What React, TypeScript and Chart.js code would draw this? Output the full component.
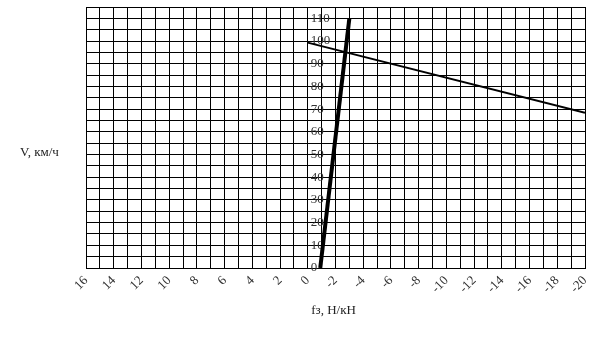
import React, { useEffect, useRef } from "react";
import { Chart, registerables } from "chart.js";

Chart.register(...registerables);

// Data
const xTickLabels = [16, 14, 12, 10, 8, 6, 4, 2, 0, -2, -4, -6, -8, -10, -12, -14, -16, -18, -20];
const yTickLabels = [0, 10, 20, 30, 40, 50, 60, 70, 80, 90, 100, 110];

const thinLineF = [0, -20];
const thinLineV = [99.3, 68.4];

const thickLineF = [-0.9, -3.0];
const thickLineV = [0, 110];

const xTitle = "fз, Н/кН";
const yTitle = "V, км/ч";

const FONT = "'Liberation Serif', 'Times New Roman', serif";

export default function App() {
  const canvasRef = useRef<HTMLCanvasElement | null>(null);

  useEffect(() => {
    const canvas = canvasRef.current;
    if (!canvas) return;

    const labelsPlugin = {
      id: "customLabels",
      beforeDatasetsDraw(chart: any) {
        const { ctx, scales, chartArea } = chart;
        const xs = scales.x;
        const ys = scales.y;
        ctx.save();
        ctx.fillStyle = "#333";
        ctx.font = `13px ${FONT}`;
        ctx.textAlign = "left";
        ctx.textBaseline = "middle";
        const x0 = xs.getPixelForValue(0);
        for (const v of yTickLabels) {
          ctx.fillText(String(v), x0 + 3, ys.getPixelForValue(v));
        }
        ctx.restore();
      },
      afterDraw(chart: any) {
        const { ctx, chartArea } = chart;
        ctx.save();
        ctx.fillStyle = "#222";
        ctx.font = `13px ${FONT}`;
        ctx.textBaseline = "middle";
        ctx.textAlign = "left";
        ctx.fillText(yTitle, 20, (chartArea.top + chartArea.bottom) / 2 + 15);
        ctx.textAlign = "center";
        ctx.fillText(xTitle, (chartArea.left + chartArea.right) / 2 - 2, 311);
        ctx.restore();
      },
    };

    const chart = new Chart(canvas, {
      type: "scatter",
      data: {
        datasets: [
          {
            data: thinLineF.map((f, i) => ({ x: f, y: thinLineV[i] })),
            showLine: true,
            borderColor: "#000",
            borderWidth: 2,
            pointRadius: 0,
          },
          {
            data: thickLineF.map((f, i) => ({ x: f, y: thickLineV[i] })),
            showLine: true,
            borderColor: "#000",
            borderWidth: 4,
            pointRadius: 0,
          },
        ],
      },
      options: {
        responsive: false,
        animation: false,
        layout: { padding: { left: 86, right: 20, top: 7, bottom: 0 } },
        plugins: {
          legend: { display: false },
          tooltip: { enabled: false },
        },
        scales: {
          x: {
            type: "linear",
            reverse: true,
            min: -20,
            max: 16,
            afterFit: (s: any) => {
              s.height = 72;
            },
            grid: { color: "#000", lineWidth: 1, drawTicks: false },
            border: { display: true, color: "#000", width: 1 },
            ticks: {
              stepSize: 1,
              autoSkip: false,
              minRotation: 45,
              maxRotation: 45,
              padding: 5,
              color: "#333",
              font: { family: FONT, size: 13 },
              callback: (v: any) => (xTickLabels.includes(Number(v)) ? String(v) : ""),
            },
          },
          y: {
            type: "linear",
            min: 0,
            max: 115,
            afterFit: (s: any) => {
              s.width = 0;
            },
            grid: { color: "#000", lineWidth: 1, drawTicks: false },
            border: { display: true, color: "#000", width: 1 },
            ticks: { stepSize: 5, display: false },
          },
        },
      },
      plugins: [labelsPlugin],
    });

    return () => chart.destroy();
  }, []);

  return (
    <div style={{ position: "fixed", left: 0, top: 0, width: 605, height: 340, background: "#fff" }}>
      <canvas ref={canvasRef} width={605} height={340} style={{ display: "block" }} />
    </div>
  );
}
